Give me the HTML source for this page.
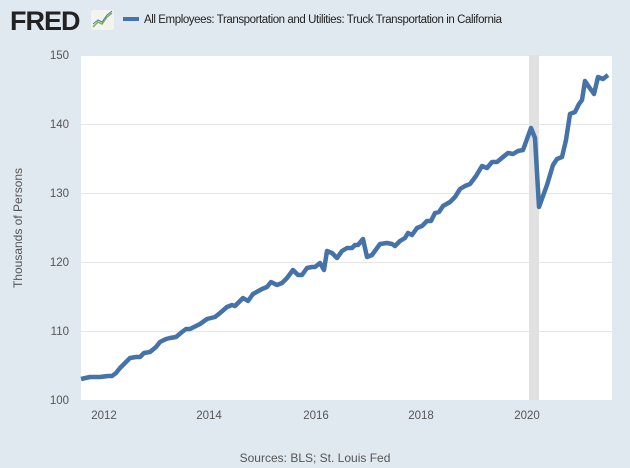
<!DOCTYPE html>
<html><head><meta charset="utf-8"><style>
body{margin:0;background:#e1e9f0;}
svg{display:block;font-family:"Liberation Sans",sans-serif;}
</style></head><body>
<svg width="630" height="468" viewBox="0 0 630 468">
<rect width="630" height="468" fill="#e1e9f0"/>
<text x="10" y="30" font-size="27" font-weight="bold" fill="#222" letter-spacing="-1">FRED</text>
<rect x="91" y="10" width="23" height="20" fill="#f3f3f0" rx="2"/>
<polyline points="93,27 98,22 102,24 107,17 112,13" fill="none" stroke="#7fae4a" stroke-width="1.5"/>
<polyline points="93,24 98,20 102,22 107,15 112,11" fill="none" stroke="#4a7fb5" stroke-width="1"/>
<rect x="123" y="17" width="16" height="4" fill="#4572a7"/>
<text x="144" y="23" font-size="11.5" fill="#222" textLength="358">All Employees: Transportation and Utilities: Truck Transportation in California</text>
<rect x="81" y="55" width="531" height="345" fill="#fff"/>
<g stroke="#e6e6e6" stroke-width="1">
<line x1="81" x2="612" y1="55.5" y2="55.5"/><line x1="81" x2="612" y1="124.5" y2="124.5"/>
<line x1="81" x2="612" y1="193.5" y2="193.5"/><line x1="81" x2="612" y1="262.5" y2="262.5"/>
<line x1="81" x2="612" y1="331.5" y2="331.5"/>
</g>
<rect x="529" y="55" width="10" height="345" fill="#e1e1e1"/>
<g font-size="11.5" fill="#555" text-anchor="end">
<text x="69" y="59">150</text><text x="69" y="128">140</text><text x="69" y="197">130</text>
<text x="69" y="266">120</text><text x="69" y="335">110</text><text x="69" y="404">100</text>
</g>
<g font-size="11.5" fill="#555" text-anchor="middle">
<text x="104" y="419">2012</text><text x="209" y="419">2014</text><text x="316" y="419">2016</text>
<text x="421" y="419">2018</text><text x="527" y="419">2020</text>
</g>
<text transform="translate(22,228) rotate(-90)" font-size="12" fill="#555" text-anchor="middle">Thousands of Persons</text>
<text x="315" y="462" font-size="12" fill="#555" text-anchor="middle">Sources: BLS; St. Louis Fed</text>
<polyline fill="none" stroke="#4572a7" stroke-width="4.5" stroke-linejoin="round" points="81,379 90,377 100,377 108,376 112,376 116,373 120,368 126,362 130,358 136,357 140,357 144,353 150,352 156,347 160,342 166,339 170,338 176,337 182,332 186,329 190,329 196,326 200,324 207,319 215,317 220,313 227,307 232,305 235,306 243,298 248,301 253,294 262,289 267,287 271,282 277,285 282,283 287,278 293,270 298,275 302,275 307,268 312,267 315,267 320,263 324,270 327,251 332,253 337,258 342,251 347,248 352,248 355,245 358,245 363,239 367,257 372,255 380,244 387,243 392,244 395,246 400,241 405,238 408,233 412,235 417,228 422,226 427,221 431,221 435,213 439,212 443,206 450,202 455,197 460,189 465,186 470,184 476,176 482,166 487,168 492,162 497,162 503,157 508,153 513,154 518,151 523,150 531,128 535,138 539,207 547,185 553,165 557,159 562,157 566,140 570,114 575,112 579,104 582,100 585,81 589,87 594,94 598,77 603,79 608,75"/>
</svg>
</body></html>
